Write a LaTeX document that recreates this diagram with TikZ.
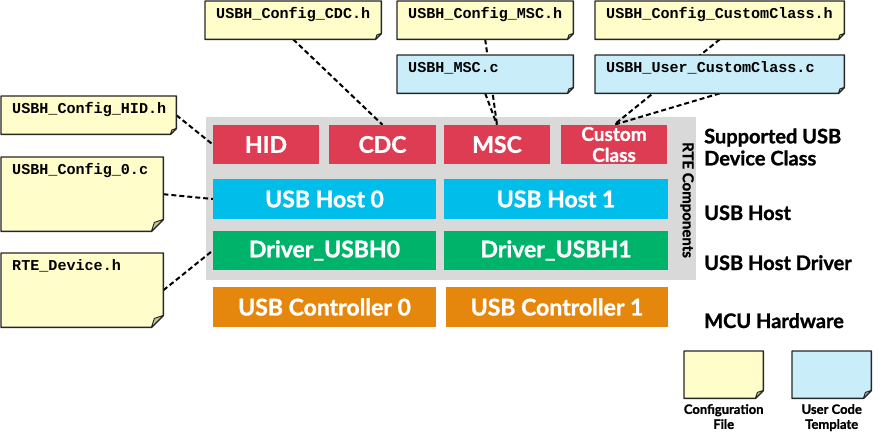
\documentclass[tikz,border=0pt]{standalone}
\usepackage{fontspec}
\setmainfont{Lato}[BoldFeatures={FakeBold=1.2}]
\newfontfamily\codefont{Liberation Mono}
\usetikzlibrary{calc}

\definecolor{classred}{HTML}{DD3C52}
\definecolor{hostblue}{HTML}{00BDE9}
\definecolor{drvgreen}{HTML}{00B36B}
\definecolor{hworange}{HTML}{E5870C}
\definecolor{rtegray}{HTML}{D9D9D9}
\definecolor{cfgyellow}{HTML}{FFFDC9}
\definecolor{tplblue}{HTML}{C9EEF9}

\pgfdeclarelayer{back}
\pgfdeclarelayer{links}
\pgfsetlayers{back,links,main}

\tikzset{
	comp/.style={inner sep=0pt, text=white, align=center, font=\bfseries\fontsize{23}{24}\selectfont},
	notearea/.style={inner sep=0pt, anchor=north west},
	note/.style={draw=black!85, line width=1.4pt, line join=round},
	notetext/.style={anchor=north west, inner xsep=11pt, inner ysep=9pt, text height=8.6pt, text depth=0pt, font=\codefont\bfseries\fontsize{15.1}{18}\selectfont},
	link/.style={line width=2pt, dash pattern=on 5pt off 3pt},
	layer/.style={inner sep=0pt, align=left, font=\bfseries\fontsize{20}{22}\selectfont},
	legend/.style={inner sep=0pt, anchor=north, align=center, font=\bfseries\fontsize{13}{15}\selectfont}
}

% file note: name, x, y (top left), width, height, fold, fill, text
\newcommand{\filenote}[8]{%
	\node[notearea, minimum width=#4pt, minimum height=#5pt] (#1) at (#2,#3) {};
	\filldraw[note, fill=#7] (#1.north west) -- (#1.north east) -- ([yshift=#6pt]#1.south east)
		-- ([xshift=-#6pt]#1.south east) -- (#1.south west) -- cycle;
	\filldraw[note, line width=1pt, fill=#7!78!black] ([xshift=-#6pt]#1.south east) -- ([yshift=#6pt]#1.south east)
		-- ([xshift={-0.75*#6pt}, yshift={0.75*#6pt}]#1.south east) -- cycle;
	\node[notetext] at (#1.north west) {#8};
}

\begin{document}
\begin{tikzpicture}[x=1pt, y=-1pt]
	\useasboundingbox (0,0) rectangle (888,440);

	%RTE components background
	\begin{pgfonlayer}{back}
		\fill[rtegray] (206,117) rectangle (696,280);
	\end{pgfonlayer}
	\node[rotate=-90, inner sep=0pt, font=\bfseries\fontsize{15}{17}\selectfont] (rte) at (687,200) {RTE Components};

	%device classes
	\node[comp, fill=classred, minimum width=106pt, minimum height=39pt] (hid) at (266,144.5) {HID};
	\node[comp, fill=classred, minimum width=107pt, minimum height=39pt] (cdc) at (382.5,144.5) {CDC};
	\node[comp, fill=classred, minimum width=106pt, minimum height=39pt] (msc) at (497,144.5) {MSC};
	\node[comp, fill=classred, minimum width=106pt, minimum height=39pt, font=\bfseries\fontsize{19}{21}\selectfont] (custom) at (614,144.5) {Custom\\Class};

	%host, driver, hardware
	\node[comp, fill=hostblue, minimum width=223pt, minimum height=40pt] (host0) at (324.5,199) {USB Host 0};
	\node[comp, fill=hostblue, minimum width=224pt, minimum height=40pt] (host1) at (556,199) {USB Host 1};
	\node[comp, fill=drvgreen, minimum width=223pt, minimum height=39pt] (drv0) at (324.5,250.5) {Driver\_USBH0};
	\node[comp, fill=drvgreen, minimum width=224pt, minimum height=39pt] (drv1) at (556,250.5) {Driver\_USBH1};
	\node[comp, fill=hworange, minimum width=223pt, minimum height=40pt] (ctrl0) at (324.5,307) {USB Controller 0};
	\node[comp, fill=hworange, minimum width=222pt, minimum height=40pt] (ctrl1) at (557,307) {USB Controller 1};

	%layer names
	\node[layer, anchor=west] (lclass) at (704,147) {Supported USB\\Device Class};
	\node[layer, anchor=base west] (lhost) at (704,220) {USB Host};
	\node[layer, anchor=base west] (ldrv) at (704,270) {USB Host Driver};
	\node[layer, anchor=base west] (lhw) at (704,328) {MCU Hardware};

	%files
	\filenote{cfgcdc}{205}{1}{176}{38}{6}{cfgyellow}{USBH\_Config\_CDC.h}
	\filenote{cfgmsc}{397}{1}{176}{38}{6}{cfgyellow}{USBH\_Config\_MSC.h}
	\filenote{cfgcustom}{595}{1}{249}{38}{6}{cfgyellow}{USBH\_Config\_CustomClass.h}
	\filenote{mscc}{397}{55}{176}{38}{6}{tplblue}{USBH\_MSC.c}
	\filenote{usercustom}{595}{55}{249}{38}{6}{tplblue}{USBH\_User\_CustomClass.c}
	\filenote{cfghid}{1}{96}{175}{38}{6}{cfgyellow}{USBH\_Config\_HID.h}
	\filenote{cfgzero}{1}{157}{162}{74}{12}{cfgyellow}{USBH\_Config\_0.c}
	\filenote{rtedev}{1}{253}{162}{74}{12}{cfgyellow}{RTE\_Device.h}

	%connections
	\begin{pgfonlayer}{links}
		\draw[link] (cfgcdc.south) -- (cdc.north);
		\draw[link] (cfghid.east) -- (hid.west);
		\draw[link] (cfgzero.east) -- (host0.west);
		\draw[link] (rtedev.east) -- (drv0.west);
		\draw[link] (cfgmsc.south) -- (msc.north);
		\draw[link] (mscc.south) -- (msc.north);
		\draw[link] (cfgcustom.south) -- (custom.north);
		\draw[link] (usercustom.south) -- (custom.north);
	\end{pgfonlayer}

	%legend
	\filenote{legcfg}{684}{351}{79}{47}{8}{cfgyellow}{}
	\filenote{legtpl}{792}{351}{79}{47}{8}{tplblue}{}
	\node[legend] (lcfg) at (legcfg.south |- 0,404) {Configuration\\File};
	\node[legend] (ltpl) at (legtpl.south |- 0,404) {User Code\\Template};

\end{tikzpicture}
\end{document}
